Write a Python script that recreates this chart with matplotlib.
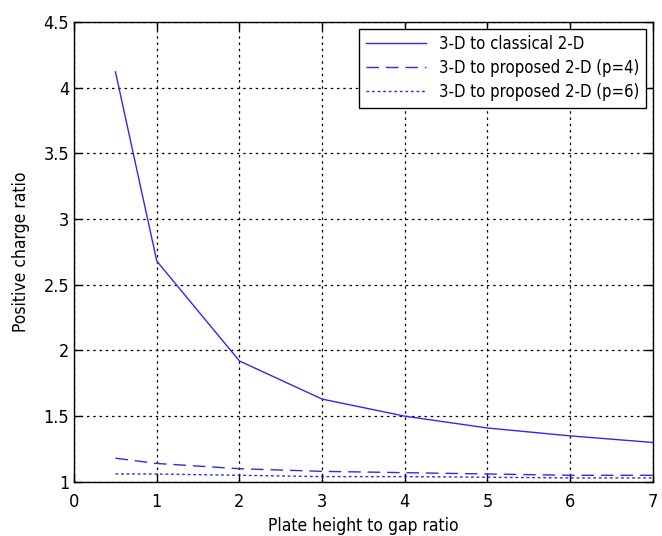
import matplotlib
matplotlib.use("Agg")
import matplotlib.pyplot as plt

# data
x = [0.5, 1, 2, 3, 4, 5, 6, 7]
classical = [4.12, 2.68, 1.92, 1.63, 1.50, 1.41, 1.35, 1.30]
proposed_p4 = [1.18, 1.14, 1.10, 1.08, 1.07, 1.06, 1.05, 1.05]
proposed_p6 = [1.06, 1.06, 1.05, 1.04, 1.04, 1.035, 1.03, 1.03]

labels = ['3-D to classical 2-D',
          '3-D to proposed 2-D (p=4)',
          '3-D to proposed 2-D (p=6)']

plt.rcParams['font.family'] = ['DejaVu Sans']
plt.rcParams['font.stretch'] = 'condensed'

fig = plt.figure(figsize=(6.62, 5.36), dpi=100)
ax = fig.add_axes([0.112, 0.101, 0.874, 0.858])

blue = '#2b2bf0'
ax.plot(x, classical, '-', color=blue, lw=1.0, label=labels[0])
ax.plot(x, proposed_p4, color=blue, lw=1.0, dashes=(9, 5), label=labels[1])
ax.plot(x, proposed_p6, color=blue, lw=1.0, dashes=(2, 2), label=labels[2])

ax.set_xlim(0, 7)
ax.set_ylim(1, 4.5)
ax.set_xticks(range(0, 8))
ax.set_yticks([1, 1.5, 2, 2.5, 3, 3.5, 4, 4.5])
ax.set_yticklabels(['1', '1.5', '2', '2.5', '3', '3.5', '4', '4.5'])
ax.grid(True, color='black', linestyle=(0, (2, 3)), lw=0.9)
ax.tick_params(direction='in', top=True, right=True, labelsize=13, length=6, width=1)
ax.tick_params(axis='x', pad=8)
for s in ax.spines.values():
    s.set_linewidth(1.0)

ax.set_xlabel('Plate height to gap ratio', fontsize=12.5, labelpad=4)
ax.set_ylabel('Positive charge ratio', fontsize=12.5, labelpad=10)

leg = ax.legend(loc='upper right', fontsize=12, fancybox=False, framealpha=1,
                edgecolor='black', handlelength=3.6, borderaxespad=0.4,
                labelspacing=0.35)
leg.get_frame().set_linewidth(1.0)

fig.savefig('out.png', dpi=100)
